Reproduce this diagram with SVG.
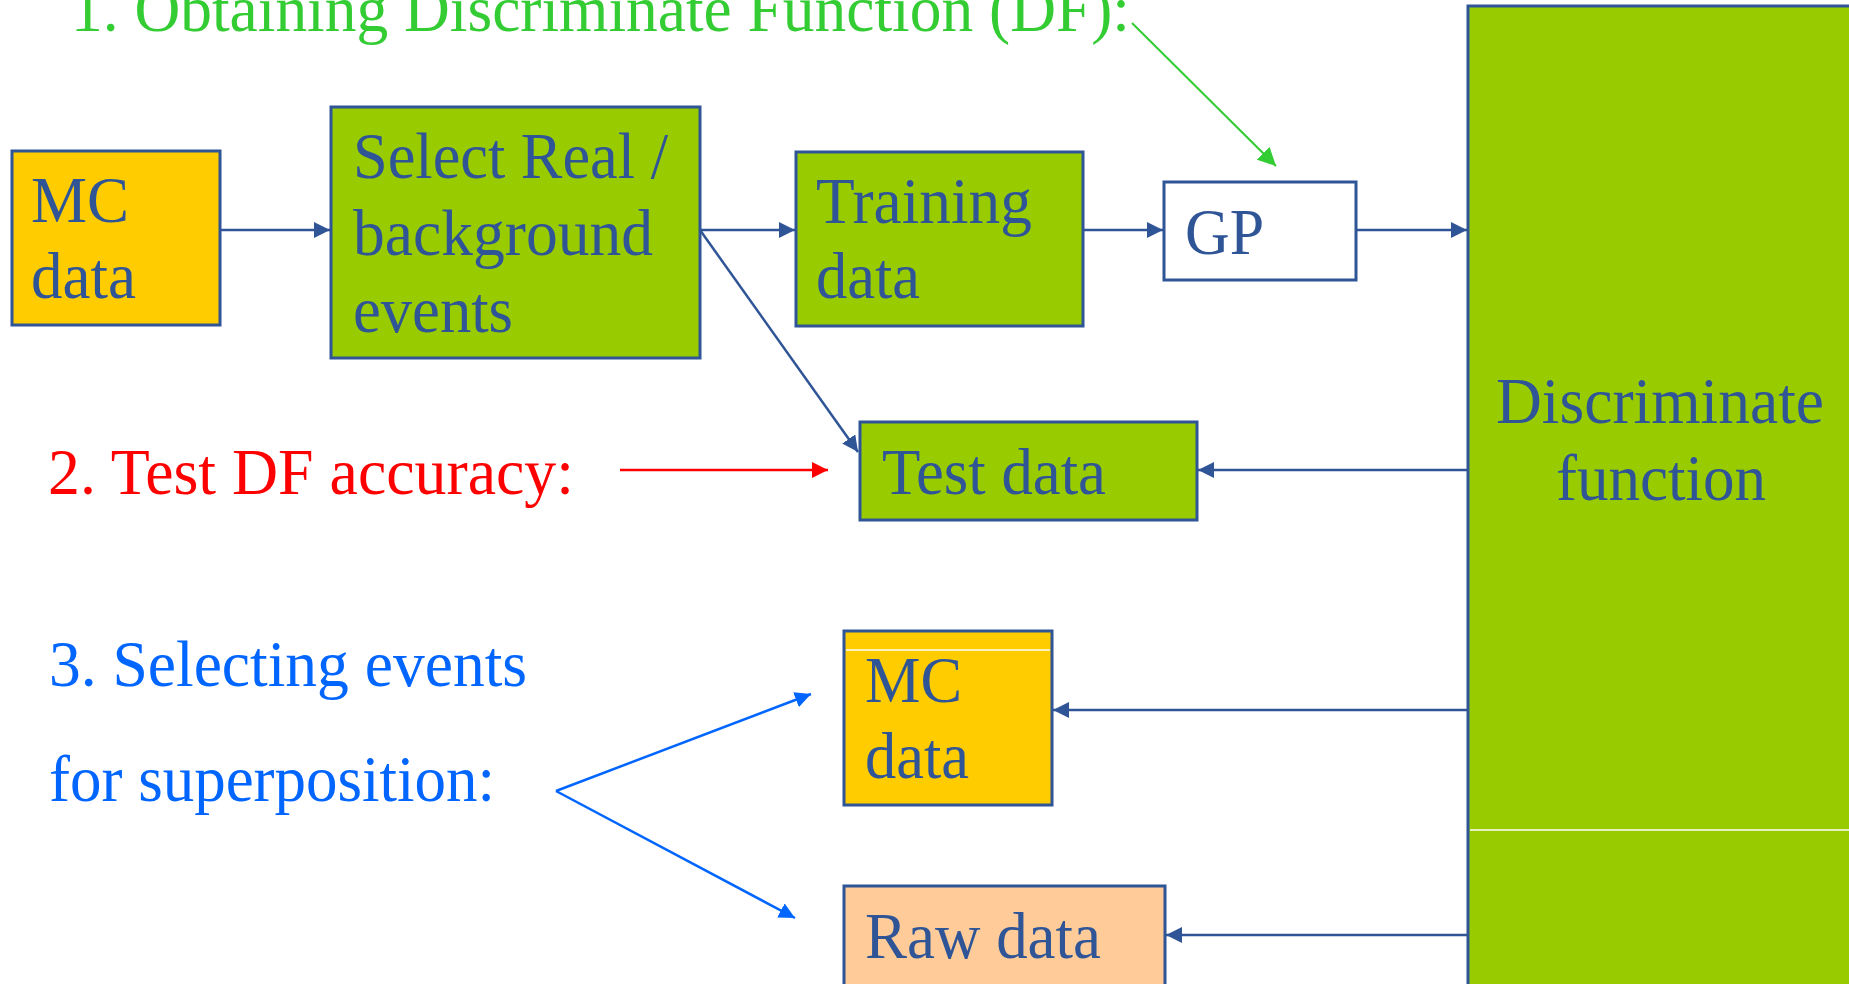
<svg xmlns="http://www.w3.org/2000/svg" width="1849" height="984" viewBox="0 0 1849 984">
<style>
.box{stroke:#2F5597;stroke-width:3}
.t{font-family:"Liberation Serif","Times New Roman",serif;font-size:65px;fill:#2F5597}
.c{stroke:#2F5597;stroke-width:2.5;fill:none}
.wl{stroke:#FFFFFF;stroke-width:1.5}
.lb{font-family:"Liberation Serif","Times New Roman",serif;font-size:65px}
</style>
<defs>
<marker id="ab" viewBox="0 0 10 10" refX="10" refY="5" markerWidth="16" markerHeight="16" markerUnits="userSpaceOnUse" orient="auto"><path d="M0,0 L10,5 L0,10 z" fill="#2F5597"/></marker>
<marker id="ar" viewBox="0 0 10 10" refX="10" refY="5" markerWidth="16" markerHeight="16" markerUnits="userSpaceOnUse" orient="auto"><path d="M0,0 L10,5 L0,10 z" fill="#FF0000"/></marker>
<marker id="ag" viewBox="0 0 10 10" refX="10" refY="5" markerWidth="18" markerHeight="18" markerUnits="userSpaceOnUse" orient="auto"><path d="M0,0 L10,5 L0,10 z" fill="#33CC33"/></marker>
<marker id="abl" viewBox="0 0 10 10" refX="10" refY="5" markerWidth="16" markerHeight="16" markerUnits="userSpaceOnUse" orient="auto"><path d="M0,0 L10,5 L0,10 z" fill="#0066FF"/></marker>
</defs>
<rect width="1849" height="984" fill="#FFFFFF"/>

<g id="labels">
<text class="lb" x="71" y="31" fill="#33CC33" textLength="1059" lengthAdjust="spacingAndGlyphs">1. Obtaining Discriminate Function (DF):</text>
<text class="lb" x="48" y="494" fill="#FF0000" textLength="526" lengthAdjust="spacingAndGlyphs">2. Test DF accuracy:</text>
<text class="lb" x="49" y="686" fill="#0066FF" textLength="478" lengthAdjust="spacingAndGlyphs">3. Selecting events</text>
<text class="lb" x="49" y="801" fill="#0066FF" textLength="446" lengthAdjust="spacingAndGlyphs">for superposition:</text>
</g>

<g id="n-mc1">
<rect class="box" x="12" y="151" width="208" height="174" fill="#FFCC00"/>
<text class="t" x="31" y="222" textLength="98" lengthAdjust="spacingAndGlyphs">MC</text>
<text class="t" x="31" y="298" textLength="105" lengthAdjust="spacingAndGlyphs">data</text>
</g>

<g id="n-select">
<rect class="box" x="331" y="107" width="369" height="251" fill="#99CC00"/>
<text class="t" x="353" y="178" textLength="315" lengthAdjust="spacingAndGlyphs">Select Real /</text>
<text class="t" x="353" y="255" textLength="300" lengthAdjust="spacingAndGlyphs">background</text>
<text class="t" x="353" y="332" textLength="160" lengthAdjust="spacingAndGlyphs">events</text>
</g>

<g id="n-training">
<rect class="box" x="796" y="152" width="287" height="174" fill="#99CC00"/>
<text class="t" x="816" y="223" textLength="216" lengthAdjust="spacingAndGlyphs">Training</text>
<text class="t" x="816" y="298" textLength="104" lengthAdjust="spacingAndGlyphs">data</text>
</g>

<g id="n-gp">
<rect class="box" x="1164" y="182" width="192" height="98" fill="#FFFFFF"/>
<text class="t" x="1185" y="254" textLength="79" lengthAdjust="spacingAndGlyphs">GP</text>
</g>

<g id="n-df">
<rect class="box" x="1468" y="6" width="400" height="990" fill="#99CC00"/>
<line class="wl" x1="1470" y1="830" x2="1849" y2="830"/>
<text class="t" x="1496" y="423" textLength="328" lengthAdjust="spacingAndGlyphs">Discriminate</text>
<text class="t" x="1556" y="500" textLength="210" lengthAdjust="spacingAndGlyphs">function</text>
</g>

<g id="n-test">
<rect class="box" x="860" y="422" width="337" height="98" fill="#99CC00"/>
<text class="t" x="882" y="494" textLength="224" lengthAdjust="spacingAndGlyphs">Test data</text>
</g>

<g id="n-mc2">
<rect class="box" x="844" y="631" width="208" height="174" fill="#FFCC00"/>
<line class="wl" x1="846" y1="650" x2="1050" y2="650"/>
<text class="t" x="865" y="702" textLength="97" lengthAdjust="spacingAndGlyphs">MC</text>
<text class="t" x="865" y="778" textLength="104" lengthAdjust="spacingAndGlyphs">data</text>
</g>

<g id="n-raw">
<rect class="box" x="844" y="886" width="321" height="110" fill="#FFCC99"/>
<text class="t" x="865" y="958" textLength="236" lengthAdjust="spacingAndGlyphs">Raw data</text>
</g>

<g id="connectors">
<line class="c" x1="220" y1="230" x2="330" y2="230" marker-end="url(#ab)"/>
<line class="c" x1="700" y1="230" x2="795" y2="230" marker-end="url(#ab)"/>
<line class="c" x1="1083" y1="230" x2="1163" y2="230" marker-end="url(#ab)"/>
<line class="c" x1="1356" y1="230" x2="1467" y2="230" marker-end="url(#ab)"/>
<line class="c" x1="700" y1="230" x2="858" y2="452" stroke-width="2" marker-end="url(#ab)"/>
<line class="c" x1="1468" y1="470" x2="1198" y2="470" marker-end="url(#ab)"/>
<line class="c" x1="1468" y1="710" x2="1053" y2="710" marker-end="url(#ab)"/>
<line class="c" x1="1468" y1="935" x2="1166" y2="935" marker-end="url(#ab)"/>
<line x1="620" y1="470" x2="828" y2="470" stroke="#FF0000" stroke-width="2.5" marker-end="url(#ar)"/>
<line x1="1132" y1="23" x2="1276" y2="166" stroke="#33CC33" stroke-width="2" marker-end="url(#ag)"/>
<line x1="556" y1="791" x2="811" y2="694" stroke="#0066FF" stroke-width="2.5" marker-end="url(#abl)"/>
<line x1="556" y1="791" x2="795" y2="918" stroke="#0066FF" stroke-width="2.5" marker-end="url(#abl)"/>
</g>
</svg>
